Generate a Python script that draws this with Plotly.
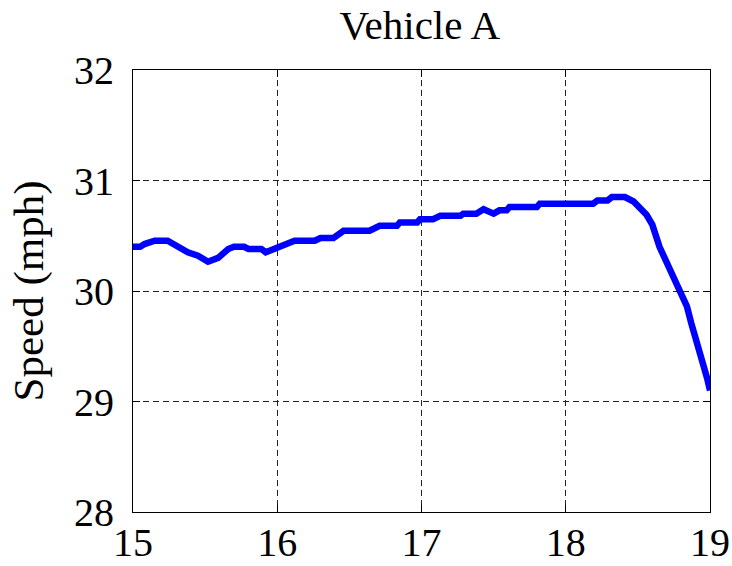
import plotly.graph_objects as go

# Time (s) and speed (mph) samples for Vehicle A
time_s = [15.00, 15.05, 15.08, 15.15, 15.24, 15.29, 15.34, 15.38, 15.45, 15.52,
          15.59, 15.66, 15.70, 15.77, 15.80, 15.89, 15.92, 15.98, 16.05, 16.12,
          16.26, 16.30, 16.39, 16.46, 16.64, 16.71, 16.83, 16.85, 16.97, 16.99,
          17.08, 17.13, 17.27, 17.29, 17.38, 17.43, 17.50, 17.54, 17.59, 17.61,
          17.80, 17.82, 18.19, 18.22, 18.29, 18.32, 18.41, 18.47, 18.56, 18.60,
          18.65, 18.72, 18.79, 18.84, 18.87, 18.91, 18.94, 18.98, 19.00]
speed_mph = [30.40, 30.40, 30.425, 30.455, 30.455, 30.42, 30.38, 30.35, 30.32, 30.265,
             30.30, 30.38, 30.40, 30.40, 30.38, 30.38, 30.35, 30.38, 30.41, 30.455,
             30.455, 30.48, 30.48, 30.545, 30.545, 30.59, 30.59, 30.62, 30.62, 30.65,
             30.65, 30.68, 30.68, 30.70, 30.70, 30.74, 30.70, 30.73, 30.73, 30.76,
             30.76, 30.79, 30.79, 30.82, 30.82, 30.85, 30.85, 30.81, 30.69, 30.60,
             30.40, 30.19, 30.01, 29.86, 29.71, 29.54, 29.38, 29.21, 29.10]

x_ticks = [15, 16, 17, 18, 19]
y_ticks = [28, 29, 30, 31, 32]

FONT = "Liberation Serif, Times New Roman, serif"

fig = go.Figure()
fig.add_trace(go.Scatter(
    x=time_s, y=speed_mph, mode="lines",
    line=dict(color="#0000ff", width=6.5),
    showlegend=False,
))

axis_common = dict(
    showline=True, linecolor="black", linewidth=1.2, mirror="ticks",
    ticks="inside", ticklen=7, tickcolor="black", tickwidth=1,
    showgrid=True, gridcolor="#222222", gridwidth=1, griddash="6px,4px",
    zeroline=False, automargin=False,
    tickfont=dict(family=FONT, size=40, color="black"),
)

fig.update_xaxes(range=[15, 19], tickvals=x_ticks, ticklabelstandoff=-5, **axis_common)
fig.update_yaxes(range=[28, 32], tickvals=y_ticks, ticklabelstandoff=10,
                 title=dict(text="Speed (mph)", font=dict(family=FONT, size=43, color="black"),
                            standoff=16),
                 **axis_common)

fig.update_layout(
    width=732, height=566,
    margin=dict(l=133, r=22, t=70, b=54),
    paper_bgcolor="white", plot_bgcolor="white",
    title=dict(text="Vehicle A", x=0.497, xanchor="center", xref="paper",
               y=1 - 25 / 566, yref="container", yanchor="middle",
               font=dict(family=FONT, size=41, color="black")),
)

fig.write_html("out.html")
